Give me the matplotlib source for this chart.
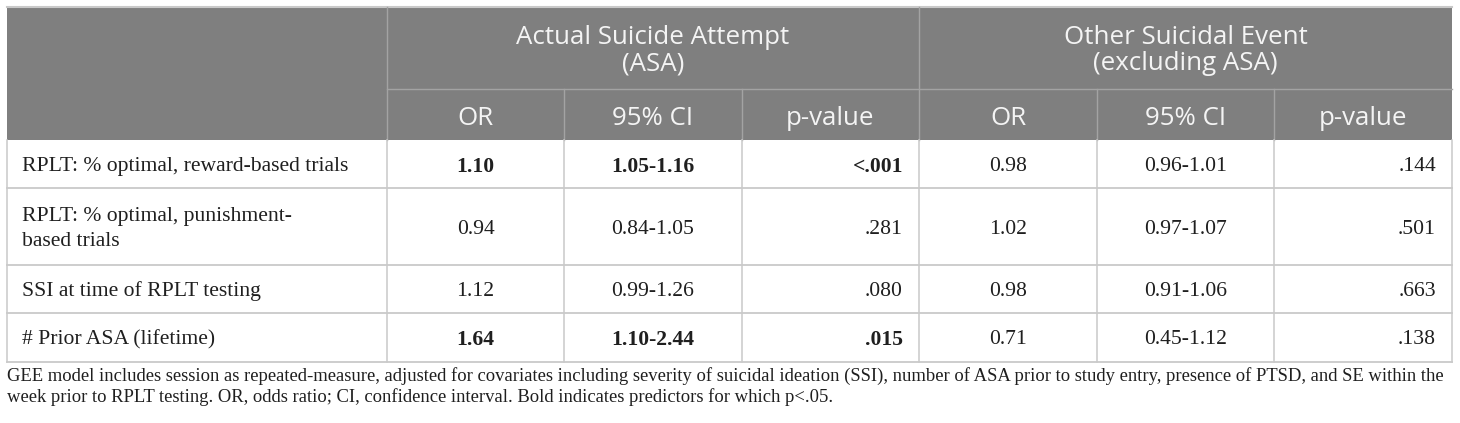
import matplotlib
matplotlib.use("Agg")
import matplotlib.pyplot as plt
from matplotlib.patches import Rectangle

# ---- table content ----
group_labels = ["Actual Suicide Attempt\n(ASA)", "Other Suicidal Event\n(excluding ASA)"]
sub_labels = ["OR", "95% CI", "p-value"]
row_labels = [
    "RPLT: % optimal, reward-based trials",
    "RPLT: % optimal, punishment-\nbased trials",
    "SSI at time of RPLT testing",
    "# Prior ASA (lifetime)",
]
asa_or = ["1.10", "0.94", "1.12", "1.64"]
asa_ci = ["1.05-1.16", "0.84-1.05", "0.99-1.26", "1.10-2.44"]
asa_p = ["<.001", ".281", ".080", ".015"]
ose_or = ["0.98", "1.02", "0.98", "0.71"]
ose_ci = ["0.96-1.01", "0.97-1.07", "0.91-1.06", "0.45-1.12"]
ose_p = [".144", ".501", ".663", ".138"]
asa_bold = [True, False, False, True]
footnote = [
    "GEE model includes session as repeated-measure, adjusted for covariates including severity of suicidal ideation (SSI), "
    "number of ASA prior to study entry, presence of PTSD, and SE within the",
    "week prior to RPLT testing. OR, odds ratio; CI, confidence interval. Bold indicates predictors for which p<.05.",
]

# ---- layout (pixels) ----
W, H = 1460, 423
col_x = [7, 387, 564, 742, 919, 1097, 1274, 1452]
top, sub_y, head_bot = 7, 89, 140
row_y = [140, 188, 265, 313, 362]

HEAD_BG = "#7f7f7f"
HEAD_LINE = "#a3a3a3"
GRID = "#c9c9c9"
TXT = "#1f1f1f"
HEAD_FONT = "Open Sans"
BODY_FONT = "Liberation Serif"

fig = plt.figure(figsize=(W / 100, H / 100), dpi=100)
ax = fig.add_axes([0, 0, 1, 1])
ax.set_xlim(0, W)
ax.set_ylim(H, 0)
ax.axis("off")

# header background
ax.add_patch(Rectangle((col_x[0], top), col_x[-1] - col_x[0], head_bot - top,
                       facecolor=HEAD_BG, edgecolor="none"))
ax.plot([col_x[0], col_x[-1]], [top, top], color=GRID, lw=1.5)

# header separators
ax.plot([col_x[1], col_x[-1]], [sub_y, sub_y], color=HEAD_LINE, lw=1)
for x in (col_x[1], col_x[4]):
    ax.plot([x, x], [top, head_bot], color=HEAD_LINE, lw=1)
for x in (col_x[2], col_x[3], col_x[5], col_x[6]):
    ax.plot([x, x], [sub_y, head_bot], color=HEAD_LINE, lw=1)

# header text
hs = 18.6
for g, lab in enumerate(group_labels):
    cx = (col_x[1 + 3 * g] + col_x[4 + 3 * g]) / 2
    for k, line in enumerate(lab.split("\n")):
        ax.text(cx, 34 + k * 27, line, ha="center", va="center_baseline",
                color="#f4f4f4", fontsize=hs, family=HEAD_FONT)
for j in range(6):
    cx = (col_x[1 + j] + col_x[2 + j]) / 2
    ax.text(cx, (sub_y + head_bot) / 2 + 1, sub_labels[j % 3], ha="center",
            va="center_baseline", color="#f4f4f4", fontsize=hs, family=HEAD_FONT)

# body grid
for y in row_y[1:]:
    ax.plot([col_x[0], col_x[-1]], [y, y], color=GRID, lw=1.3)
for x in col_x:
    ax.plot([x, x], [head_bot, row_y[-1]], color=GRID, lw=1.1)

# body text
bs = 15.6
columns = [asa_or, asa_ci, asa_p, ose_or, ose_ci, ose_p]
for i, lab in enumerate(row_labels):
    cy = (row_y[i] + row_y[i + 1]) / 2
    lines = lab.split("\n")
    for k, line in enumerate(lines):
        ly = cy + (k - (len(lines) - 1) / 2) * 25
        ax.text(col_x[0] + 15, ly, line, ha="left", va="center_baseline", color=TXT,
                fontsize=bs, family=BODY_FONT)
    for j, vals in enumerate(columns):
        weight = "bold" if (j < 3 and asa_bold[i]) else "normal"
        if j % 3 == 2:
            x, ha = col_x[j + 2] - 16, "right"
        else:
            x, ha = (col_x[j + 1] + col_x[j + 2]) / 2, "center"
        ax.text(x, cy, vals[i], ha=ha, va="center_baseline", color=TXT,
                fontsize=bs, family=BODY_FONT, fontweight=weight)

# footnote, sized so the first line spans the table width
fn = [ax.text(col_x[0], 374 + k * 21, line, ha="left", va="center_baseline", color=TXT,
              fontsize=12.5, family=BODY_FONT) for k, line in enumerate(footnote)]
fig.canvas.draw()
w = fn[0].get_window_extent().width
scale = (col_x[-1] - col_x[0]) / w
for t in fn:
    t.set_fontsize(12.5 * scale)

fig.savefig("out.png", dpi=100)
